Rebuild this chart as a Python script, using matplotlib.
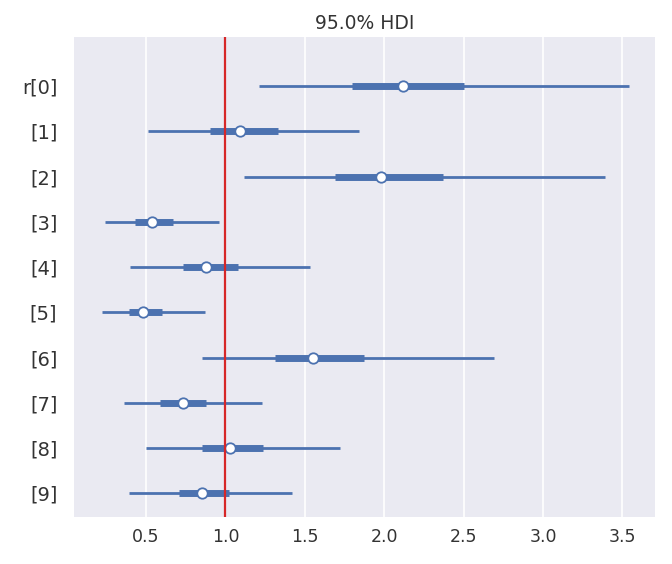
import matplotlib
matplotlib.use("Agg")
import matplotlib.pyplot as plt

# forest plot values (95% HDI, 50% interval, median)
labels = ["r[0]", "[1]", "[2]", "[3]", "[4]", "[5]", "[6]", "[7]", "[8]", "[9]"]
hdi_lo = [1.21, 0.51, 1.12, 0.24, 0.40, 0.22, 0.85, 0.36, 0.50, 0.39]
hdi_hi = [3.54, 1.84, 3.39, 0.96, 1.53, 0.87, 2.69, 1.23, 1.72, 1.42]
q_lo = [1.80, 0.90, 1.69, 0.43, 0.73, 0.39, 1.31, 0.59, 0.85, 0.71]
q_hi = [2.50, 1.33, 2.37, 0.67, 1.08, 0.60, 1.87, 0.88, 1.24, 1.02]
median = [2.12, 1.09, 1.98, 0.54, 0.88, 0.48, 1.55, 0.73, 1.03, 0.85]
ref_val = 1.0

blue = "#4C72B0"

fig, ax = plt.subplots(figsize=(6.72, 5.64), dpi=100)
ax.set_facecolor("#EAEAF2")
for s in ax.spines.values():
    s.set_visible(False)

n = len(labels)
ys = list(range(n - 1, -1, -1))
for y, lo, hi, a, b, m in zip(ys, hdi_lo, hdi_hi, q_lo, q_hi, median):
    ax.plot([lo, hi], [y, y], color=blue, lw=2, solid_capstyle="butt", zorder=3)
    ax.plot([a, b], [y, y], color=blue, lw=5, solid_capstyle="butt", zorder=3)
    ax.plot(m, y, "o", mfc="white", mec=blue, ms=7.5, mew=1.3, zorder=4)

ax.axvline(ref_val, color="#D62728", lw=1.6, zorder=5)

ax.set_yticks(ys)
ax.set_yticklabels(labels, fontsize=14, color="#333333")
ax.set_xticks([0.5, 1.0, 1.5, 2.0, 2.5, 3.0, 3.5])
ax.tick_params(axis="x", labelsize=12.5, colors="#333333", length=0, pad=8)
ax.tick_params(axis="y", length=0, pad=12)
ax.set_xlim(0.046, 3.707)
ax.set_ylim(-0.53, n - 1 + 1.08)
ax.grid(axis="x", color="white", lw=1.2, zorder=0)
ax.set_axisbelow(True)
ax.set_title("95.0% HDI", fontsize=13.5, color="#333333", pad=6)

fig.subplots_adjust(left=0.11, right=0.975, top=0.934, bottom=0.083)
fig.savefig("out.png", dpi=100)
